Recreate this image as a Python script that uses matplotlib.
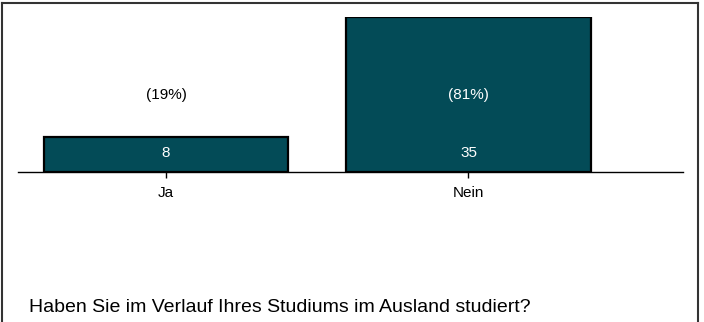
import matplotlib
matplotlib.use("Agg")
import matplotlib.pyplot as plt
from matplotlib.lines import Line2D

categories = ["Ja", "Nein"]
counts = [8, 35]
title = "Haben Sie im Verlauf Ihres Studiums im Ausland studiert?"

plt.rcParams['font.family'] = ['Liberation Sans', 'DejaVu Sans']

W, H = 704, 322
fig = plt.figure(figsize=(W / 100, H / 100), dpi=100)

# axes placement in pixels
left_px, right_px = 18, 683
bottom_px, top_px = 172, 17
ax = fig.add_axes([left_px / W, 1 - bottom_px / H, (right_px - left_px) / W, (bottom_px - top_px) / H])

color = "#034B57"
pos = list(range(len(categories)))
width = 0.807
ax.bar(pos, counts, width=width, color=color, edgecolor="black", linewidth=1.6, zorder=3)

ax.set_ylim(0, 35)
ax.set_xlim(-0.489, 1.709)

total = sum(counts)
for i, c in enumerate(counts):
    pct = round(100 * c / total)
    inside = c > 17.4
    ax.text(i, 17.4, f"({pct}%)", ha="center", va="center", fontsize=11,
            color="white" if inside else "black", zorder=4)
    ax.text(i, 4.3, str(c), ha="center", va="center", fontsize=11, color="white", zorder=4)

ax.set_xticks(pos)
ax.set_xticklabels(categories, fontsize=11)
ax.tick_params(axis="x", direction="out", length=4, width=1, pad=6)
ax.set_yticks([])
for s in ["left", "right", "top"]:
    ax.spines[s].set_visible(False)
ax.spines["bottom"].set_linewidth(1)

fig.text(29 / W, 1 - 308 / H, title, ha="left", va="center", fontsize=14)

# outer frame
fc = "#333333"
lw = 1.5
fig.add_artist(Line2D([1.5 / W, 1.5 / W], [0, 1 - 3 / H], color=fc, lw=lw, transform=fig.transFigure))
fig.add_artist(Line2D([698 / W, 698 / W], [0, 1 - 3 / H], color=fc, lw=lw, transform=fig.transFigure))
fig.add_artist(Line2D([1.5 / W, 698 / W], [1 - 3 / H, 1 - 3 / H], color=fc, lw=lw, transform=fig.transFigure))

fig.savefig("out.png", dpi=100)
